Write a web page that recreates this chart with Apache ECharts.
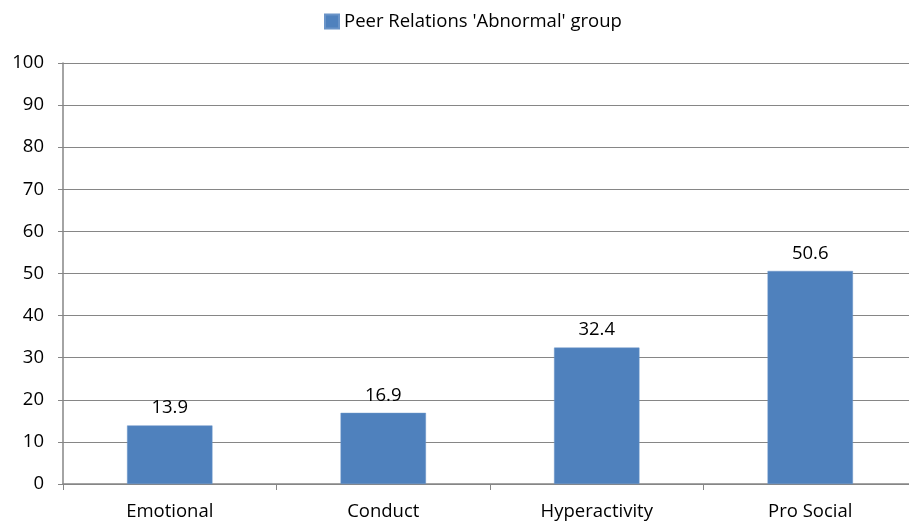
<!DOCTYPE html>
<html><head><meta charset="utf-8">
<script src="https://cdn.jsdelivr.net/npm/echarts@6/dist/echarts.min.js"></script>
<style>html,body{margin:0;padding:0;background:#fff;overflow:hidden;width:909px;height:524px}#c{width:917px;height:524px}</style>
</head><body><div id="c"></div>
<script>
const categories = ['Emotional', 'Conduct', 'Hyperactivity', 'Pro Social'];
const seriesName = "Peer Relations 'Abnormal' group";
const values = [13.9, 16.9, 32.4, 50.6];
const yTicks = [0, 10, 20, 30, 40, 50, 60, 70, 80, 90, 100];

const FONT = "'Open Sans', 'Liberation Sans', sans-serif";
const chart = echarts.init(document.getElementById('c'), null, {renderer: 'canvas'});
chart.setOption({
  animation: false,
  textStyle: {fontFamily: FONT},
  legend: {
    top: 7, left: 319,
    icon: 'rect',
    itemWidth: 14, itemHeight: 14, itemGap: 6,
    textStyle: {fontSize: 18.5, color: '#000', fontFamily: FONT},
    data: [seriesName]
  },
  grid: {left: 63, right: 0, top: 63, bottom: 40, containLabel: false},
  xAxis: {
    type: 'category', data: categories,
    axisLine: {lineStyle: {color: '#868686', width: 1.5}},
    axisTick: {show: true, length: 6, alignWithLabel: false, lineStyle: {color: '#868686'}},
    axisLabel: {fontSize: 18.5, color: '#000', margin: 18, fontFamily: FONT}
  },
  yAxis: {
    type: 'value', min: yTicks[0], max: yTicks[yTicks.length - 1], interval: 10,
    axisLine: {show: true, lineStyle: {color: '#868686', width: 1.5}},
    axisTick: {show: true, length: 5, lineStyle: {color: '#868686'}},
    axisLabel: {fontSize: 18.5, color: '#000', margin: 19, fontFamily: FONT},
    splitLine: {lineStyle: {color: '#868686', width: 1.2}}
  },
  series: [{
    name: seriesName, type: 'bar', data: values, barWidth: '40%',
    itemStyle: {color: '#4F81BD', borderColor: '#6a94c8', borderWidth: 0.5},
    label: {show: true, position: 'top', distance: 8, fontSize: 18.5, color: '#000', fontFamily: FONT,
      formatter: p => p.value.toFixed(1)}
  }]
});
</script></body></html>
